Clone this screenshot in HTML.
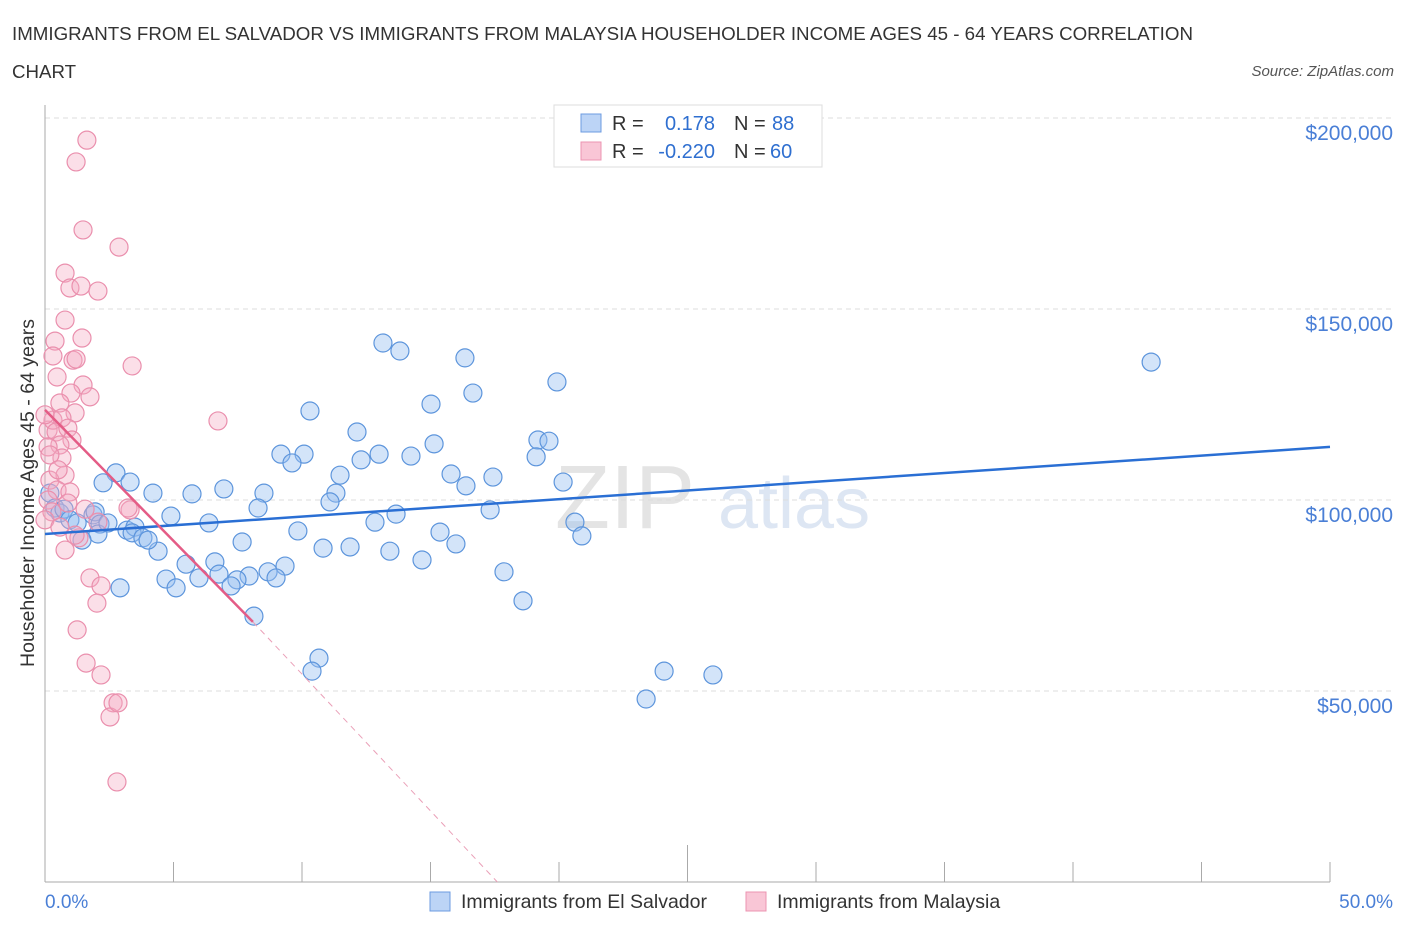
<!DOCTYPE html>
<html><head><meta charset="utf-8"><style>
body{margin:0;background:#fff;font-family:"Liberation Sans",sans-serif;}
svg text{font-family:"Liberation Sans",sans-serif;}
</style></head><body>
<svg id="chart" width="1406" height="930" viewBox="0 0 1406 930" xmlns="http://www.w3.org/2000/svg">
<text x="12" y="40" font-size="18.7" fill="#333" textLength="1181" lengthAdjust="spacingAndGlyphs">IMMIGRANTS FROM EL SALVADOR VS IMMIGRANTS FROM MALAYSIA HOUSEHOLDER INCOME AGES 45 - 64 YEARS CORRELATION</text>
<text x="12" y="78" font-size="18.7" fill="#333">CHART</text>
<text x="1394" y="76" font-size="15" fill="#555" font-style="italic" text-anchor="end">Source: ZipAtlas.com</text>
<text x="555" y="528" font-size="90" fill="#e4e4e4" font-family="Liberation Serif">ZIP</text>
<text x="718" y="528" font-size="72" fill="#dde6f3">atlas</text>
<g id="grid"></g>
<g id="axes"></g>
<g id="marks"></g>
<text transform="translate(34,493) rotate(-90)" font-size="19.5" fill="#333" text-anchor="middle">Householder Income Ages 45 - 64 years</text>
<text x="45" y="908" font-size="19" fill="#4a7fd6">0.0%</text>
<text x="1393" y="908" font-size="19" fill="#4a7fd6" text-anchor="end">50.0%</text>
<g>
<rect x="554" y="105" width="268" height="62" fill="#fff" stroke="#ddd"/>
<rect x="581" y="114" width="20" height="18" fill="#bcd4f6" stroke="#6c9be0"/>
<rect x="581" y="142" width="20" height="18" fill="#f9c6d6" stroke="#ec94b1"/>
<text x="612" y="130" font-size="20" fill="#333">R = </text><text x="715" y="130" font-size="20" fill="#2f6fd0" text-anchor="end">0.178</text>
<text x="734" y="130" font-size="20" fill="#333">N = </text><text x="772" y="130" font-size="20" fill="#2f6fd0">88</text>
<text x="612" y="158" font-size="20" fill="#333">R = </text><text x="715" y="158" font-size="20" fill="#2f6fd0" text-anchor="end">-0.220</text>
<text x="734" y="158" font-size="20" fill="#333">N = </text><text x="770" y="158" font-size="20" fill="#2f6fd0">60</text>
</g>
<g>
<rect x="430" y="892" width="20" height="19" fill="#bcd4f6" stroke="#6c9be0"/>
<text x="461" y="908" font-size="19.5" fill="#333">Immigrants from El Salvador</text>
<rect x="746" y="892" width="20" height="19" fill="#f9c6d6" stroke="#ec94b1"/>
<text x="777" y="908" font-size="19.5" fill="#333">Immigrants from Malaysia</text>
</g>
</svg>
<script>
const yTicks=[50000,100000,150000,200000];
const yTickLabels=["$50,000","$100,000","$150,000","$200,000"];
const xTicks=[0,5,10,15,20,25,30,35,40,45,50];
const blueX=[43.04,13.15,13.81,16.34,19.92,16.65,10.31,15.02,12.14,19.18,19.61,15.14,9.18,10.08,9.61,13.00,14.24,12.30,19.11,15.80,20.16,11.48,17.43,16.38,2.76,3.31,6.96,8.52,4.20,5.72,11.32,11.09,8.29,13.66,17.32,4.90,6.38,12.84,20.62,9.84,15.37,20.89,15.99,7.67,10.82,11.87,13.42,4.40,14.67,17.86,18.60,9.34,6.61,5.49,8.68,8.99,7.94,7.47,6.77,4.71,5.99,7.24,5.10,2.92,8.13,10.66,10.39,24.09,25.99,23.39,0.19,0.39,0.58,0.74,0.97,1.25,1.87,1.95,2.14,2.06,1.44,2.45,3.19,3.50,3.39,3.81,4.01,2.26];
const blueY=[136.1,141.1,139.0,137.2,130.9,128.0,123.3,125.1,117.8,115.7,115.4,114.7,112.0,112.0,109.7,112.0,111.5,110.5,111.3,106.8,104.7,106.5,106.0,103.7,107.1,104.7,102.9,101.8,101.8,101.6,101.8,99.5,97.9,96.3,97.4,95.8,94.0,94.2,94.2,91.9,91.6,90.6,88.5,89.0,87.4,87.7,86.6,86.6,84.3,81.2,73.6,82.7,83.8,83.2,81.2,79.6,80.1,79.1,80.6,79.3,79.6,77.5,77.0,77.0,69.6,58.6,55.2,55.2,54.2,47.9,101.8,97.9,96.6,97.6,94.8,94.0,96.1,96.9,93.7,91.1,89.5,94.0,92.1,92.9,91.4,90.1,89.5,104.5];
const pinkX=[1.63,1.21,1.48,2.88,0.78,0.97,1.40,2.06,0.78,0.39,1.44,0.31,1.09,1.21,3.39,0.47,1.48,1.75,1.01,0.58,1.17,6.73,0.12,0.31,0.66,0.43,0.89,1.05,0.58,0.12,0.66,0.78,0.19,0.47,0.97,0.12,0.27,0.89,1.56,2.06,3.31,1.32,0.78,1.75,2.18,2.02,1.25,1.60,2.18,2.65,2.53,2.80,3.23,0,0.19,0.51,0,0.58,1.17,2.84];
const pinkY=[194.2,188.5,170.7,166.2,159.4,155.5,156.0,154.7,147.1,141.6,142.4,137.7,136.6,136.9,135.1,132.2,130.1,127.0,128.0,125.4,122.8,120.7,118.3,120.9,121.5,117.8,118.8,115.7,114.4,113.9,111.0,106.5,105.2,102.6,102.1,100.0,96.9,99.2,97.6,94.2,97.4,90.1,86.9,79.6,77.5,73.0,66.0,57.3,54.2,46.9,43.2,26.2,97.9,122.3,111.8,107.9,94.8,92.9,90.8,46.9];
const blueTrendX=[0,50], blueTrendY=[91.1,113.9];
const pinkTrendX=[0,8.09], pinkTrendY=[123.6,68.1];
const pinkDashX=[8.09,17.6], pinkDashY=[68.1,0];

const X0=45,X1=1330,Y0=882,PXK=191/50;
const sx=v=>X0+(v/50)*(X1-X0);
const sy=k=>Y0-k*PXK;
const NS="http://www.w3.org/2000/svg";
function mk(tag,parent,attrs){const e=document.createElementNS(NS,tag);for(const k in attrs)e.setAttribute(k,attrs[k]);parent.appendChild(e);return e;}
const grid=document.getElementById('grid'),axes=document.getElementById('axes'),marks=document.getElementById('marks');
yTicks.forEach((t,i)=>{
 const y=sy(t/1000);
 const l=mk('line',grid,{x1:X0,x2:1395,y1:y,y2:y,stroke:'#ddd','stroke-dasharray':'5,4'});
 
 
 const tx=mk('text',grid,{x:1393,y:y+22,'font-size':21,fill:'#4a7fd6','text-anchor':'end'});
 tx.textContent=yTickLabels[i];
 
 
});
const ya=mk('line',axes,{x1:X0,x2:X0,y1:105,y2:Y0,stroke:'#aaa'});


const xa=mk('line',axes,{x1:X0,x2:X1,y1:Y0,y2:Y0,stroke:'#aaa'});


xTicks.forEach(t=>{
 const x=sx(t);
 const tk=mk('line',axes,{x1:x,x2:x,y1:t===25?845:862,y2:Y0,stroke:'#aaa'});
 
 
});
blueX.forEach((v,i)=>{
 const c=mk('circle',marks,{cx:sx(v),cy:sy(blueY[i]),r:9,fill:'rgba(150,190,240,0.42)',stroke:'#5d95dc','stroke-width':1.2});
 
 
});
pinkX.forEach((v,i)=>{
 const c=mk('circle',marks,{cx:sx(v),cy:sy(pinkY[i]),r:9,fill:'rgba(245,170,195,0.38)',stroke:'#ea8fad','stroke-width':1.2});
 
 
});
const bt=mk('line',marks,{x1:sx(blueTrendX[0]),y1:sy(blueTrendY[0]),x2:sx(blueTrendX[1]),y2:sy(blueTrendY[1]),stroke:'#2a6fd4','stroke-width':2.5});


const pt=mk('line',marks,{x1:sx(pinkTrendX[0]),y1:sy(pinkTrendY[0]),x2:sx(pinkTrendX[1]),y2:sy(pinkTrendY[1]),stroke:'#e45c86','stroke-width':2.5});


const pd=mk('line',marks,{x1:sx(pinkDashX[0]),y1:sy(pinkDashY[0]),x2:sx(pinkDashX[1]),y2:sy(pinkDashY[1]),stroke:'#eaa0b8','stroke-width':1,'stroke-dasharray':'6,5'});


</script>
</body></html>
